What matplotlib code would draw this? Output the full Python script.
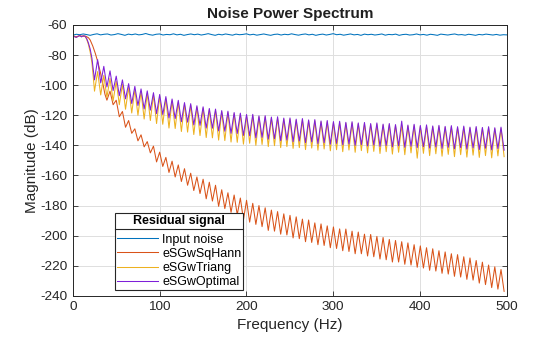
import matplotlib
matplotlib.use("Agg")
import matplotlib.pyplot as plt
from matplotlib.lines import Line2D
import numpy as np

plt.rcParams['font.family'] = ['Liberation Sans', 'DejaVu Sans']
plt.rcParams['axes.unicode_minus'] = False

# ---- data (dB) ----
# lobe grid: nulls every ~7.15 Hz starting at 25 Hz, peaks half way between
lobe_start_hz = 25.0
lobe_width_hz = 7.15

noise_step_hz = 4
noise_db = [
    -66.8, -66.2, -66.5, -66.0, -66.4, -66.9, -66.3, -65.9, -66.6, -66.2,
    -66.0, -66.7, -66.4, -65.8, -66.3, -66.9, -66.1, -66.5, -66.0, -66.6,
    -66.3, -65.7, -66.4, -66.8, -66.2, -66.0, -66.7, -66.3, -66.5, -65.9,
    -66.6, -66.2, -66.9, -66.4, -66.0, -66.5, -66.1, -66.7, -66.3, -65.8,
    -66.4, -66.9, -66.2, -66.6, -66.0, -66.4, -66.8, -66.1, -66.5, -66.3,
    -65.9, -66.6, -66.2, -66.8, -66.4, -66.0, -66.5, -66.9, -66.3, -66.1,
    -66.7, -66.2, -66.5, -65.9, -66.4, -66.8, -66.3, -66.0, -66.6, -66.2,
    -66.9, -66.4, -66.1, -66.7, -66.3, -65.8, -66.5, -66.2, -66.8, -66.4,
    -66.0, -66.6, -66.3, -66.9, -66.1, -66.5, -66.2, -66.7, -66.4, -66.0,
    -66.8, -66.3, -66.5, -66.1, -66.9, -66.4, -66.2, -66.7, -66.5, -66.0,
    -66.6, -66.3, -66.8, -66.2, -66.5, -66.9, -66.1, -66.4, -66.7, -66.3,
    -66.0, -66.6, -66.4, -66.8, -66.2, -66.5, -66.9, -66.3, -66.6, -66.1,
    -66.4, -66.7, -66.3, -66.8, -66.5, -66.6,
]

# passband before the first null
opt_head_hz = [0, 2, 4, 6, 8, 10, 12, 14, 16, 18, 20, 22, 23.5]
opt_head_db = [-67.3, -67.8, -68.3, -67.6, -67.0, -67.9, -67.2, -67.4,
               -69.0, -72.0, -76.0, -82.0, -89.0]
tri_head_hz = [0, 2, 4, 6, 8, 10, 12, 14, 16, 18, 20, 22, 23.5]
tri_head_db = [-67.3, -67.8, -68.3, -67.6, -67.0, -67.9, -67.2, -67.4,
               -69.5, -73.0, -78.0, -85.0, -94.0]
hann_head_hz = [0, 4, 8, 12, 15, 18, 20, 23, 26, 29, 32, 35, 37]
hann_head_db = [-67.3, -67.8, -67.2, -67.6, -67.5, -68.5, -70.0, -74.0,
                -79.0, -85.0, -92.0, -100.0, -106.0]

# eSGwOptimal: lobe peaks / nulls
opt_peak_db = [
    -83.0, -87.5, -90.5, -94.0, -96.5, -99.0, -100.8, -102.5, -103.8, -105.0,
    -106.2, -107.6, -109.2, -110.1, -111.6, -112.3, -113.7, -114.4, -115.5, -115.9,
    -116.9, -117.3, -118.2, -118.6, -119.5, -119.4, -120.4, -120.3, -121.2, -121.0,
    -121.9, -121.8, -122.6, -122.2, -123.1, -122.9, -123.8, -123.5, -124.2, -124.0,
    -124.7, -124.3, -125.1, -124.8, -125.5, -125.1, -125.9, -125.5, -126.2, -123.9,
    -126.5, -126.0, -126.8, -126.4, -127.1, -126.7, -127.4, -126.9, -127.6, -127.2,
    -127.9, -127.5, -128.1, -127.6, -128.3, -127.9,
]
opt_null_db = [
    -96.5, -98.5, -101.2, -103.6, -107.0, -109.1, -112.2, -113.5, -115.8, -116.6,
    -118.9, -119.5, -121.8, -122.2, -124.3, -124.6, -126.4, -126.7, -128.5, -128.6,
    -130.4, -130.6, -132.0, -132.1, -133.4, -133.6, -135.0, -134.7, -135.9, -135.6,
    -136.9, -136.5, -137.6, -137.1, -138.2, -137.7, -138.8, -138.3, -139.2, -138.7,
    -139.6, -139.1, -140.0, -139.5, -140.4, -139.8, -140.7, -140.1, -141.0, -140.3,
    -141.3, -140.6, -141.5, -140.9, -141.8, -141.1, -142.0, -141.3, -142.3, -141.5,
    -142.5, -141.7, -142.8, -141.9, -143.0, -142.1, -143.2,
]

# eSGwTriang
tri_peak_db = [
    -91.0, -93.5, -95.5, -97.5, -99.5, -101.5, -103.0, -104.3, -105.5, -106.5,
    -107.6, -109.0, -110.4, -111.3, -112.7, -113.4, -114.7, -115.4, -116.4, -116.8,
    -117.8, -118.2, -119.1, -119.5, -120.3, -120.3, -121.2, -121.2, -122.0, -121.9,
    -122.7, -122.7, -123.4, -123.1, -123.9, -123.8, -124.5, -124.4, -124.9, -124.9,
    -125.4, -125.2, -125.8, -125.7, -126.2, -126.0, -126.6, -126.4, -126.9, -126.5,
    -127.2, -126.9, -127.5, -127.3, -127.8, -127.6, -128.1, -127.8, -128.3, -128.1,
    -128.6, -128.4, -128.8, -128.5, -129.0, -128.8,
]
tri_null_db = [
    -104.0, -106.5, -108.0, -110.5, -113.0, -116.0, -118.5, -120.0, -122.5, -123.5,
    -125.5, -126.0, -128.5, -128.8, -130.8, -131.2, -132.8, -133.5, -134.8, -135.0,
    -136.5, -136.8, -137.8, -138.0, -139.2, -138.6, -140.0, -139.4, -140.8, -140.2,
    -141.5, -140.8, -142.0, -141.5, -142.8, -141.8, -143.2, -142.4, -143.6, -142.9,
    -144.2, -143.1, -144.6, -143.5, -145.0, -144.0, -145.4, -144.2, -145.8, -144.6,
    -146.2, -145.0, -148.5, -145.3, -146.8, -145.6, -147.2, -146.0, -147.5, -146.2,
    -147.8, -146.5, -148.0, -146.8, -148.3, -147.0, -147.5,
]

# eSGwSqHann (lobes start at the third null)
hann_first_lobe = 2
hann_peak_db = [
    -104.0, -110.0, -117.5, -123.5, -129.0, -133.0, -137.5, -140.5, -144.5, -148.0,
    -150.5, -153.0, -155.5, -158.5, -161.0, -162.5, -164.5, -166.5, -169.5, -171.5,
    -173.0, -175.0, -176.5, -178.5, -180.0, -181.5, -183.0, -184.0, -185.5, -186.5,
    -187.5, -189.0, -189.6, -191.5, -192.2, -193.5, -194.2, -195.5, -195.6, -197.0,
    -197.6, -199.0, -199.2, -200.5, -201.2, -202.5, -203.2, -204.0, -204.8, -206.0,
    -206.8, -208.0, -208.7, -210.0, -210.8, -212.0, -212.6, -214.0, -214.8, -216.5,
    -217.6, -219.5, -220.7, -222.5,
]
hann_null_db = [
    -110.0, -113.0, -121.0, -128.0, -132.0, -137.0, -141.0, -145.0, -151.0, -154.0,
    -158.0, -161.0, -164.0, -166.5, -170.0, -172.0, -175.5, -177.0, -180.5, -182.0,
    -184.5, -186.0, -189.5, -191.0, -192.5, -194.0, -196.5, -197.0, -199.0, -199.5,
    -201.5, -202.0, -204.0, -204.5, -206.0, -206.5, -208.0, -208.5, -210.0, -210.5,
    -212.0, -212.0, -213.5, -214.0, -215.5, -216.0, -217.5, -217.5, -219.0, -219.5,
    -221.0, -221.5, -223.0, -223.5, -225.0, -225.5, -227.0, -227.5, -229.0, -229.5,
    -231.5, -232.5, -234.5, -235.5, -237.0,
]


def lobe_curve(head_hz, head_db, null_db, peak_db, first=0):
    k = np.arange(first, first + len(null_db))
    null_hz = lobe_start_hz + lobe_width_hz * k
    peak_hz = null_hz[:len(peak_db)] + lobe_width_hz / 2
    x = list(head_hz)
    y = list(head_db)
    for i in range(len(null_db)):
        x.append(null_hz[i])
        y.append(null_db[i])
        if i < len(peak_db):
            x.append(peak_hz[i])
            y.append(peak_db[i])
    return np.array(x), np.array(y)


noise_hz = np.arange(len(noise_db)) * noise_step_hz
hann_x, hann_y = lobe_curve(hann_head_hz, hann_head_db, hann_null_db, hann_peak_db, hann_first_lobe)
tri_x, tri_y = lobe_curve(tri_head_hz, tri_head_db, tri_null_db, tri_peak_db)
opt_x, opt_y = lobe_curve(opt_head_hz, opt_head_db, opt_null_db, opt_peak_db)

fig, ax = plt.subplots(figsize=(5.6, 3.37), dpi=100)
plt.subplots_adjust(left=0.130, right=0.905, bottom=0.122, top=0.926)

ax.plot(noise_hz, noise_db, color='#0072BD', lw=0.75, label='Input noise')
ax.plot(hann_x, hann_y, color='#D95319', lw=0.75, label='eSGwSqHann')
ax.plot(tri_x, tri_y, color='#EDB120', lw=0.75, label='eSGwTriang')
ax.plot(opt_x, opt_y, color='#7E1FD8', lw=0.75, label='eSGwOptimal')

ax.set_xlim(0, 500)
ax.set_ylim(-240, -60)
ax.set_xticks(np.arange(0, 501, 100))
ax.set_yticks(np.arange(-240, -59, 20))
ax.grid(True, color='#DFDFDF', lw=0.7)
ax.set_axisbelow(True)
ax.tick_params(direction='in', top=True, right=True, length=3.5, width=0.6,
               labelsize=9.7, colors='#262626', pad=4)
for sp in ax.spines.values():
    sp.set_color('#262626')
    sp.set_linewidth(0.7)

ax.set_title('Noise Power Spectrum', fontsize=11, fontweight='bold', color='#202020', pad=5)
ax.set_xlabel('Frequency (Hz)', fontsize=11, color='#262626', labelpad=3.5)
ax.set_ylabel('Magnitude (dB)', fontsize=11, color='#262626', labelpad=1)

leg = ax.legend(title='Residual signal', loc='lower left', bbox_to_anchor=(0.098, 0.022),
                fontsize=9, title_fontsize=9, fancybox=False, framealpha=1,
                handlelength=3.3, handletextpad=0.3, labelspacing=0.17,
                borderpad=0.15, borderaxespad=0)
leg.get_title().set_fontweight('bold')
leg.get_frame().set_edgecolor('#262626')
leg.get_frame().set_linewidth(0.8)
leg._legend_box.sep = 5

# separator under legend title
fig.canvas.draw()
tb = leg.get_title().get_window_extent()
fb = leg.get_frame().get_window_extent()
inv = fig.transFigure.inverted()
(x0, ysep), (x1, _) = inv.transform([(fb.x0, tb.y0 - 2.5), (fb.x1, tb.y0 - 2.5)])
fig.add_artist(Line2D([x0, x1], [ysep, ysep], color='#262626', lw=0.8))

plt.savefig('out.png', dpi=100)
